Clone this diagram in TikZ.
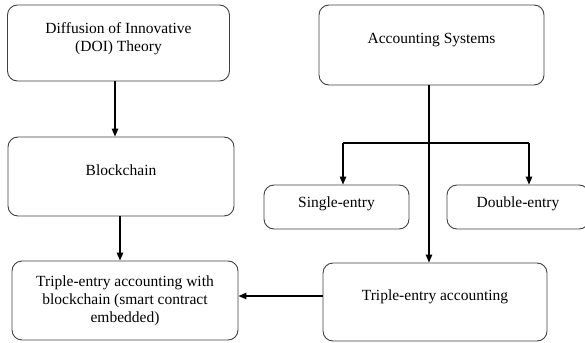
\documentclass[tikz,border=0pt]{standalone}
\usepackage{fontspec}
\setmainfont{Liberation Serif}
\usetikzlibrary{arrows.meta}
\begin{document}
\begin{tikzpicture}[x=1pt,y=-1pt,
    box/.style={draw=black!75, line width=0.9pt, rounded corners=10pt,
      align=center, inner sep=0pt, font=\fontsize{15.5}{18}\selectfont},
    lift/.style={text depth=#1},
    conn/.style={draw, line width=1.2pt, -{Triangle[length=8pt,width=6.5pt]}}]

  \useasboundingbox (0,0) rectangle (585,342);

  \begin{scope}[every node/.style={box}]
    \node[minimum width=222, minimum height=76, lift=12pt] (doi)    at (118.5,43)
      {Diffusion of Innovative\\(DOI) Theory};
    \node[minimum width=226, minimum height=79, lift=13pt] (blk)    at (121,176.5) {Blockchain};
    \node[minimum width=226, minimum height=79]            (teab)   at (125,300.5)
      {Triple-entry accounting with\\blockchain (smart contract\\embedded)};
    \node[minimum width=225, minimum height=80, lift=13pt] (acc)    at (431.5,45) {Accounting Systems};
    \node[minimum width=145, minimum height=44, lift=9pt]  (single) at (336.5,207) {Single-entry};
    \node[minimum width=142, minimum height=44, lift=9pt]  (double) at (518,207) {Double-entry};
    \node[minimum width=224, minimum height=78, lift=13pt] (tea)    at (435,302) {Triple-entry accounting};
  \end{scope}

  % junctions of the branch
  \coordinate (split) at (429,143);
  \coordinate (sj) at (343,143);
  \coordinate (dj) at (529,143);

  \path[conn] ([xshift=-3.5pt]doi.south) -- ([xshift=-6pt]blk.north);
  \path[conn] ([xshift=-1pt]blk.south) -- ([xshift=-5pt]teab.north);
  \path[conn] (acc.south -| split) -- (tea.north -| split);
  \draw[line width=1.2pt] (sj) -- (dj);
  \path[conn] (sj) -- (sj |- single.north);
  \path[conn] (dj) -- (dj |- double.north);
  \path[conn] (tea.west |- 0,296) -- (teab.east |- 0,296);

\end{tikzpicture}
\end{document}
